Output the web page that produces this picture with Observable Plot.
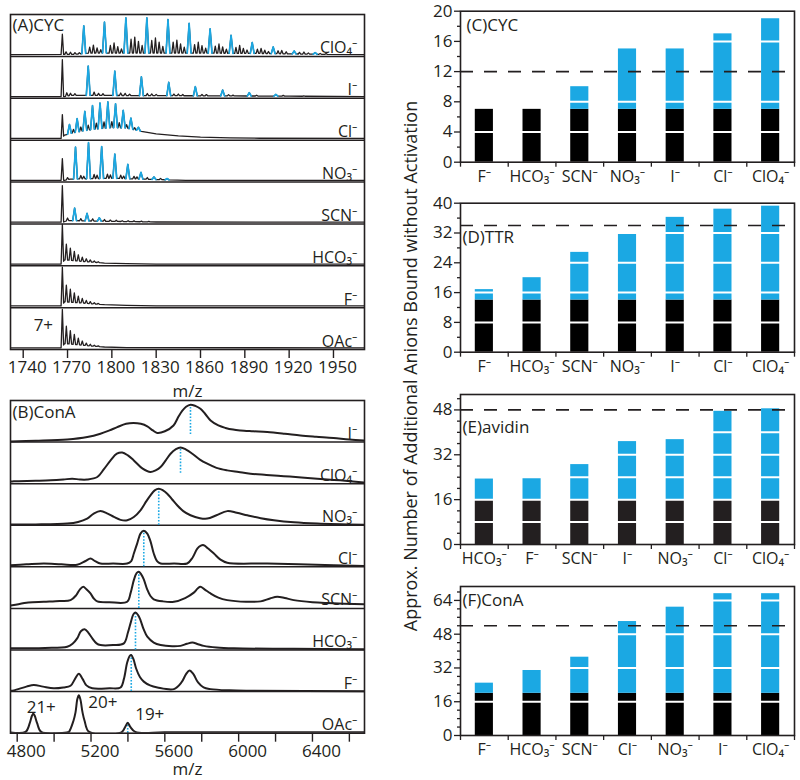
<!DOCTYPE html>
<html><head><meta charset="utf-8">
<script src="https://cdn.jsdelivr.net/npm/d3@7"></script>
<script src="https://cdn.jsdelivr.net/npm/@observablehq/plot@0.6"></script>
<style>
body{margin:0;background:#fff;}
#wrap{position:relative;width:800px;height:780px;overflow:hidden;font-family:"Open Sans","Noto Sans","DejaVu Sans",sans-serif;color:#231f20;}
.p{position:absolute;}
.p svg{overflow:visible;}
#ytitle{position:absolute;left:410px;top:366px;transform:translate(-50%,-50%) rotate(-90deg);white-space:nowrap;font-size:18px;color:#231f20;}
</style></head><body>
<div id="wrap">
<div class="p" id="pA" style="left:0;top:0"></div>
<div class="p" id="pB" style="left:0;top:392px"></div>
<div class="p" id="pC" style="left:400px;top:0"></div>
<div class="p" id="pD" style="left:400px;top:190px"></div>
<div class="p" id="pE" style="left:400px;top:380px"></div>
<div class="p" id="pF" style="left:400px;top:570px"></div>
<div id="ytitle">Approx. Number of Additional Anions Bound without Activation</div>
</div>
<script>
// ---------------- Panel A: CYC mass spectra (rows bottom -> top) ----------------
const cycAnions = ["OAc⁻","F⁻","HCO₃⁻","SCN⁻","NO₃⁻","Cl⁻","I⁻","ClO₄⁻"];
const cycTicks = [1740,1770,1800,1830,1860,1890,1920,1950];

const cycOAcBlack = [[1766.5,0.89],[1769.2,0.42],[1771.9,0.32],[1774.6,0.24],[1777.3,0.16],[1780,0.1],[1782.7,0.06],[1785.4,0.04],[1788.1,0.025],[1790.8,0.015]];
const cycOAcBase = [[1731,0],[1766,0],[1768,0.1],[1772,0.09],[1778,0.07],[1785,0.045],[1795,0.02],[1810,0.005],[1971,0]];
const cycOAcBlue = [];

const cycFBlack = [[1766.5,0.90],[1769.2,0.4],[1771.9,0.31],[1774.6,0.23],[1777.3,0.16],[1780,0.11],[1782.7,0.07],[1785.4,0.05],[1788.1,0.03],[1790.8,0.02]];
const cycFBase = [[1731,0],[1766,0],[1768,0.1],[1772,0.09],[1778,0.075],[1785,0.055],[1795,0.03],[1810,0.012],[1830,0],[1971,0]];
const cycFBlue = [];

const cycHCO3Black = [[1766.5,0.92],[1769.2,0.38],[1771.9,0.29],[1774.6,0.22],[1777.3,0.15],[1780,0.1],[1782.7,0.07],[1785.4,0.05],[1788.1,0.03],[1790.8,0.02]];
const cycHCO3Base = [[1731,0],[1766,0],[1768,0.1],[1772,0.09],[1778,0.07],[1785,0.05],[1795,0.025],[1810,0.01],[1830,0],[1971,0]];
const cycHCO3Blue = [];

const cycSCNBlack = [[1766.5,0.87],[1770,0.06],[1779,0.05],[1787,0.05],[1795,0.04],[1799,0.03],[1803,0.03],[1807,0.02],[1811,0.02],[1815,0.02],[1820,0.015],[1825,0.01]];
const cycSCNBase = [[1731,0],[1767,0],[1770,0.04],[1800,0.02],[1830,0.005],[1971,0]];
const cycSCNBlue = [[1774.8,0.30],[1783.2,0.18],[1791.5,0.08]];

const cycNO3Black = [[1766.5,0.52],[1770,0.05],[1779,0.08],[1781,0.06],[1788,0.1],[1790,0.08],[1797,0.1],[1799,0.08],[1806,0.08],[1808,0.06],[1815,0.06],[1817,0.05],[1824,0.04],[1833,0.03]];
const cycNO3Base = [[1731,0],[1768,0],[1772,0.03],[1800,0.05],[1830,0.02],[1850,0],[1971,0]];
const cycNO3Blue = [[1775.4,0.76],[1784.2,0.86],[1793.1,0.76],[1802,0.58],[1810.8,0.34],[1819.7,0.16],[1828.5,0.06],[1837.4,0.03]];

const cycClBlack = [[1766.5,0.55],[1774,0.08],[1779,0.1],[1784,0.12],[1789.5,0.14],[1794.7,0.15],[1800,0.14],[1805,0.12],[1810,0.08],[1815.5,0.05]];
const cycClBase = [[1731,0],[1766,0],[1768,0.08],[1772,0.12],[1780,0.18],[1790,0.23],[1800,0.26],[1810,0.25],[1820,0.17],[1830,0.11],[1845,0.06],[1860,0.03],[1880,0.015],[1900,0.005],[1971,0]];
const cycClBlue = [[1771.3,0.22],[1776.5,0.32],[1781.7,0.46],[1786.9,0.57],[1792,0.61],[1797.3,0.62],[1802.5,0.57],[1807.7,0.42],[1812.9,0.26],[1818,0.08]];

const cycIBlack = [[1766.5,0.88],[1769.5,0.08],[1772,0.05],[1775,0.04],[1788,0.08],[1791,0.05],[1794,0.04],[1806,0.06],[1809,0.05],[1812,0.03],[1824,0.05],[1827,0.04],[1830,0.03],[1842,0.04],[1845,0.04],[1848,0.03],[1861,0.03],[1864,0.03],[1879,0.03],[1882,0.02],[1898,0.02],[1916,0.02],[1930,0.01]];
const cycIBase = [[1731,0],[1768,0],[1772,0.03],[1850,0.02],[1920,0.01],[1971,0]];
const cycIBlue = [[1784,0.70],[1802,0.58],[1820,0.45],[1838.5,0.32],[1856.5,0.22],[1875,0.14],[1893,0.08],[1911,0.04]];

const cycClO4Black = [[1766.5,0.48],[1769,0.06],[1772,0.05],[1775,0.04],[1778,0.03],
  [1785,0.14],[1787.5,0.19],[1790,0.12],[1792.5,0.08],[1799,0.18],[1801.5,0.24],[1804,0.15],[1806.5,0.1],
  [1813,0.33],[1815.5,0.38],[1818,0.28],[1820.5,0.18],[1827,0.3],[1829.5,0.36],[1832,0.26],[1834.5,0.16],
  [1841.5,0.26],[1844,0.31],[1846.5,0.22],[1849,0.14],[1856,0.2],[1858.5,0.26],[1861,0.18],[1863.5,0.12],
  [1870,0.17],[1872.5,0.22],[1875,0.15],[1877.5,0.1],[1884,0.14],[1886.5,0.19],[1889,0.12],[1891.5,0.08],
  [1898.5,0.1],[1901,0.12],[1903.5,0.08],[1906,0.05],[1912.5,0.07],[1915,0.08],[1918,0.05],[1927,0.04],[1930,0.05],[1933,0.03],[1941,0.02],[1945,0.02]];
const cycClO4Base = [[1731,0],[1775,0.01],[1785,0.04],[1850,0.04],[1900,0.03],[1940,0.01],[1971,0]];
const cycClO4Blue = [[1781,0.66],[1795,0.74],[1809.5,0.84],[1823.7,0.84],[1838,0.80],[1852.3,0.71],[1866.5,0.58],[1880.7,0.43],[1895,0.26],[1909.2,0.16],[1923.4,0.07],[1937.6,0.04]];

const cycRows = [
  {black: cycOAcBlack, base: cycOAcBase, blue: cycOAcBlue},
  {black: cycFBlack, base: cycFBase, blue: cycFBlue},
  {black: cycHCO3Black, base: cycHCO3Base, blue: cycHCO3Blue},
  {black: cycSCNBlack, base: cycSCNBase, blue: cycSCNBlue},
  {black: cycNO3Black, base: cycNO3Base, blue: cycNO3Blue},
  {black: cycClBlack, base: cycClBase, blue: cycClBlue},
  {black: cycIBlack, base: cycIBase, blue: cycIBlue},
  {black: cycClO4Black, base: cycClO4Base, blue: cycClO4Blue}
];

// ---------------- Panel B: ConA spectra (rows bottom -> top) ----------------
const conaAnions = ["OAc⁻","F⁻","HCO₃⁻","SCN⁻","Cl⁻","NO₃⁻","ClO₄⁻","I⁻"];
const conaTicks = [4800,5000,5200,5400,5600,5800,6000,6200,6400,6600];
const conaTickLabels = [4800,5200,5600,6000,6400];

const conaOAc = [[4764,0.02],[4845,0.03],[4868,0.24],[4880,0.42],[4887,0.47],[4895,0.42],[4908,0.24],[4930,0.03],[5071,0.02],[5080,0.03],[5105,0.3],[5116,0.5],[5126,0.82],[5134,0.91],[5142,0.82],[5154,0.5],[5165,0.3],[5190,0.03],[5365,0.02],[5385,0.15],[5399,0.25],[5413,0.15],[5440,0.03],[5600,0.02],[6000,0.025],[6682,0.02]];
const conaF = [[4764,0.02],[4782,0.03],[4850,0.12],[4890,0.16],[4940,0.12],[4998,0.08],[5050,0.1],[5089,0.14],[5115,0.32],[5134,0.43],[5155,0.3],[5175,0.15],[5207,0.08],[5300,0.08],[5360,0.1],[5378,0.3],[5396,0.7],[5410,0.86],[5418,0.88],[5430,0.78],[5445,0.55],[5465,0.35],[5486,0.24],[5520,0.15],[5560,0.1],[5649,0.06],[5690,0.22],[5715,0.42],[5734,0.51],[5755,0.42],[5780,0.22],[5810,0.1],[5848,0.06],[5950,0.03],[6064,0.02],[6682,0.01]];
const conaHCO3 = [[4764,0.04],[4950,0.05],[5071,0.08],[5100,0.15],[5125,0.28],[5145,0.45],[5165,0.5],[5185,0.42],[5207,0.28],[5230,0.16],[5251,0.12],[5320,0.12],[5378,0.16],[5400,0.42],[5414,0.64],[5430,0.86],[5441,0.9],[5455,0.84],[5468,0.72],[5485,0.5],[5505,0.32],[5540,0.18],[5577,0.12],[5640,0.09],[5685,0.1],[5720,0.15],[5749,0.18],[5780,0.14],[5811,0.1],[5880,0.06],[5974,0.04],[6300,0.03],[6682,0.02]];
const conaSCN = [[4764,0.07],[4782,0.08],[4860,0.14],[4944,0.16],[5030,0.18],[5089,0.2],[5120,0.32],[5140,0.46],[5158,0.52],[5175,0.46],[5197,0.36],[5215,0.24],[5234,0.17],[5300,0.15],[5396,0.16],[5415,0.38],[5432,0.68],[5447,0.85],[5459,0.88],[5472,0.82],[5486,0.7],[5505,0.45],[5522,0.3],[5540,0.22],[5590,0.17],[5649,0.16],[5710,0.25],[5757,0.38],[5778,0.48],[5793,0.52],[5815,0.46],[5848,0.36],[5890,0.26],[5938,0.2],[6040,0.16],[6119,0.17],[6170,0.24],[6209,0.28],[6250,0.25],[6299,0.2],[6400,0.15],[6480,0.13],[6682,0.1]];
const conaCl = [[4764,0.04],[4850,0.06],[4944,0.08],[5040,0.06],[5125,0.05],[5170,0.14],[5197,0.2],[5222,0.14],[5251,0.08],[5320,0.08],[5396,0.08],[5418,0.14],[5432,0.32],[5450,0.56],[5468,0.8],[5486,0.87],[5505,0.8],[5522,0.62],[5540,0.32],[5559,0.13],[5577,0.08],[5650,0.08],[5721,0.08],[5750,0.22],[5776,0.44],[5795,0.51],[5811,0.52],[5835,0.44],[5866,0.32],[5900,0.18],[5938,0.1],[6155,0.08],[6516,0.04],[6682,0.02]];
const conaNO3 = [[4764,0.02],[4900,0.02],[5071,0.04],[5130,0.08],[5179,0.16],[5215,0.28],[5251,0.34],[5290,0.28],[5324,0.2],[5360,0.13],[5396,0.12],[5432,0.2],[5468,0.36],[5500,0.58],[5522,0.72],[5545,0.84],[5567,0.88],[5590,0.84],[5613,0.76],[5640,0.62],[5667,0.48],[5700,0.34],[5739,0.24],[5790,0.17],[5830,0.16],[5880,0.24],[5938,0.34],[5990,0.3],[6047,0.24],[6120,0.17],[6191,0.12],[6300,0.07],[6426,0.04],[6682,0.01]];
const conaClO4 = [[4764,0.05],[4782,0.06],[4900,0.07],[4981,0.08],[5050,0.1],[5098,0.12],[5140,0.1],[5179,0.1],[5234,0.16],[5270,0.35],[5306,0.56],[5340,0.72],[5369,0.75],[5400,0.68],[5432,0.56],[5480,0.36],[5522,0.28],[5550,0.32],[5577,0.4],[5605,0.56],[5631,0.72],[5660,0.83],[5685,0.87],[5715,0.82],[5749,0.72],[5790,0.58],[5830,0.48],[5880,0.38],[5938,0.32],[6000,0.28],[6064,0.24],[6150,0.21],[6245,0.18],[6340,0.15],[6426,0.12],[6550,0.08],[6682,0.03]];
const conaI = [[4764,0.015],[4900,0.03],[5071,0.06],[5180,0.12],[5251,0.2],[5300,0.28],[5342,0.36],[5390,0.44],[5430,0.46],[5470,0.44],[5505,0.38],[5535,0.28],[5559,0.22],[5600,0.26],[5647,0.4],[5675,0.62],[5694,0.75],[5715,0.85],[5739,0.9],[5765,0.87],[5793,0.8],[5820,0.67],[5848,0.52],[5890,0.4],[5929,0.34],[5970,0.3],[6010,0.28],[6080,0.26],[6155,0.24],[6250,0.2],[6335,0.16],[6420,0.13],[6514,0.1],[6600,0.06],[6682,0.04]];
const conaTraces = [conaOAc, conaF, conaHCO3, conaSCN, conaCl, conaNO3, conaClO4, conaI];
// blue dotted markers: [m/z, top, bottom] per row (bottom -> top)
const conaMarkers = [[5399,0.25,0],[5418,0.88,0],[5441,0.9,0],[5459,0.88,0],[5486,0.87,0],[5567,0.88,0],[5685,0.87,0.25],[5739,0.9,0.18]];
const conaCharges = [["21+",4887,0.47],["20+",5134,0.91],["19+",5399,0.25]];

// ---------------- Panels C-F: bar charts ----------------
const cycCats = ["F⁻","HCO₃⁻","SCN⁻","NO₃⁻","I⁻","Cl⁻","ClO₄⁻"];
const cycBound = 7;
const cycTotal = [7,7,10,15,15,17,19];
const cycLine = 12;

const ttrCats = ["F⁻","HCO₃⁻","SCN⁻","NO₃⁻","I⁻","Cl⁻","ClO₄⁻"];
const ttrBound = 14;
const ttrTotal = [16.8,20,26.8,32,36.2,38.4,39.2];
const ttrLine = 34;

const avidinCats = ["HCO₃⁻","F⁻","SCN⁻","I⁻","NO₃⁻","Cl⁻","ClO₄⁻"];
const avidinBound = 16;
const avidinTotal = [23.4,23.8,28.5,36.7,37.4,47.5,48.4];
const avidinLine = 48;

const conaCats = ["F⁻","HCO₃⁻","SCN⁻","Cl⁻","NO₃⁻","I⁻","ClO₄⁻"];
const conaBound = 20;
const conaTotal = [24.8,30.8,37.1,54,60.8,67.2,67.2];
const conaLine = 52;

const FONT = '"Open Sans","Noto Sans","DejaVu Sans",sans-serif';
const BLUE = "#1ba8e3";
const INK = "#231f20";

function interp(base, x) {
  if (!base.length) return 0;
  if (x <= base[0][0]) return base[0][1];
  for (let i = 1; i < base.length; i++) {
    if (x <= base[i][0]) {
      const [x0, y0] = base[i - 1], [x1, y1] = base[i];
      return y0 + (y1 - y0) * (x - x0) / (x1 - x0);
    }
  }
  return base[base.length - 1][1];
}
const HWK = 0.85, HWB = 1.3, OFF = 0.04;
function spikes(peaks, base, hw) {
  return peaks.map(([c, h]) => [[c - hw, interp(base, c - hw)], [c, interp(base, c) + h], [c + hw, interp(base, c + hw)]]);
}
const aBlack = [], aBlue = [];
cycRows.forEach((row, r) => {
  const spans = [...row.black.map(([c]) => [c - HWK, c + HWK]), ...row.blue.map(([c]) => [c - HWB, c + HWB])];
  const basePts = row.base.filter(([x]) => !spans.some(([a, b]) => x >= a && x <= b));
  const blk = spikes(row.black, row.base, HWK), blu = spikes(row.blue, row.base, HWB);
  const pts = [...basePts, ...blk.flat(), ...blu.flat()].sort((a, b) => a[0] - b[0]);
  pts.forEach(([x, y]) => aBlack.push({x, y: r + OFF + y, row: r}));
  blu.forEach((tri, k) => tri.forEach(([x, y]) => aBlue.push({x, y: r + OFF + y, id: r * 100 + k})));
});

const style = {fontFamily: FONT, fontSize: "17px", color: INK, background: "transparent", overflow: "visible"};

const plotA = Plot.plot({
  width: 380, height: 392, marginLeft: 10, marginRight: 16, marginTop: 14, marginBottom: 43,
  style,
  x: {domain: [1731.4, 1971], label: null},
  y: {domain: [0, cycAnions.length], label: null, axis: null},
  marks: [
    Plot.ruleY(cycAnions.map((d, i) => i).slice(1), {stroke: INK, strokeWidth: 1.5}),
    Plot.line(aBlack, {x: "x", y: "y", z: "row", stroke: INK, strokeWidth: 1.3, clip: true}),
    Plot.line(aBlue, {x: "x", y: "y", z: "id", stroke: BLUE, strokeWidth: 1.7, clip: true}),
    Plot.frame({stroke: INK, strokeWidth: 1.6}),
    Plot.axisX({ticks: cycTicks, tickSize: 9, tickFormat: () => "", label: null, stroke: INK, strokeWidth: 1.4}),
    Plot.axisX({ticks: cycTicks, tickSize: 0, tickPadding: 11, dx: 4, tickFormat: d => String(d), fontSize: 17, label: null}),
    Plot.text(["m/z"], {frameAnchor: "bottom", dy: 42, lineAnchor: "middle", fontSize: 17}),
    Plot.text(cycAnions, {frameAnchor: "right", y: (d, i) => i, text: d => d, textAnchor: "end", lineAnchor: "bottom", dx: -7, dy: -3, fontSize: 16}),
    Plot.text(["(A)CYC"], {frameAnchor: "top-left", dx: 2, dy: 11, lineAnchor: "middle", textAnchor: "start", fontSize: 17}),
    Plot.text([cycOAcBlack[0]], {x: d => d[0], y: d => OFF + d[1], text: () => "7+", dx: -19, dy: 15, lineAnchor: "middle", fontSize: 17})
  ]
});
document.getElementById("pA").append(plotA);

const bLines = [];
conaTraces.forEach((t, r) => t.forEach(([x, y]) => bLines.push({x, y: r + y, row: r})));
const bMarks = conaMarkers.map(([x, top, bot], r) => ({x, y1: r + bot, y2: r + top}));
const plotB = Plot.plot({
  width: 380, height: 388, marginLeft: 10, marginRight: 16, marginTop: 8, marginBottom: 47.3,
  style,
  x: {domain: [4763.7, 6682], label: null},
  y: {domain: [0, conaAnions.length], label: null, axis: null},
  marks: [
    Plot.ruleY(conaAnions.map((d, i) => i).slice(1), {stroke: INK, strokeWidth: 1.5}),
    Plot.ruleX(bMarks, {x: "x", y1: "y1", y2: "y2", stroke: BLUE, strokeWidth: 1.6, strokeDasharray: "1.6,1.6"}),
    Plot.line(bLines, {x: "x", y: "y", z: "row", stroke: INK, strokeWidth: 2, curve: "catmull-rom", clip: true}),
    Plot.frame({stroke: INK, strokeWidth: 1.6}),
    Plot.axisX({ticks: conaTicks, tickSize: 9, tickFormat: () => "", label: null, stroke: INK, strokeWidth: 1.4}),
    Plot.axisX({ticks: conaTickLabels, tickSize: 0, tickPadding: 12, dx: 9, tickFormat: d => String(d), fontSize: 17, label: null}),
    Plot.text(["m/z"], {frameAnchor: "bottom", dy: 36, lineAnchor: "middle", fontSize: 17}),
    Plot.text(conaAnions, {frameAnchor: "right", y: (d, i) => i, text: d => d, textAnchor: "end", lineAnchor: "bottom", dx: -7, dy: -3, fontSize: 16}),
    Plot.text(["(B)ConA"], {frameAnchor: "top-left", dx: 2, dy: 12, lineAnchor: "middle", textAnchor: "start", fontSize: 17}),
    Plot.text([conaCharges[0]], {x: d => d[1], y: d => d[2], text: d => d[0], dx: 8, dy: -6, lineAnchor: "middle", fontSize: 17}),
    Plot.text([conaCharges[1]], {x: d => d[1], y: d => d[2], text: d => d[0], dx: 24, dy: 7, lineAnchor: "middle", fontSize: 17}),
    Plot.text([conaCharges[2]], {x: d => d[1], y: d => d[2], text: d => d[0], dx: 22, dy: -8, lineAnchor: "middle", fontSize: 17})
  ]
});
document.getElementById("pB").append(plotB);

function barPanel(o) {
  const rows = o.cats.map((c, i) => ({c, i, bound: o.bound, total: o.total[i]}));
  return Plot.plot({
    width: 400, height: o.height, marginLeft: 60, marginRight: 6, marginTop: o.mt, marginBottom: o.mb,
    style,
    x: {domain: [0, o.cats.length], label: null},
    y: {domain: [0, o.ymax], label: null},
    marks: [
      Plot.rect(rows, {x1: d => d.i + 0.31, x2: d => d.i + 0.69, y1: 0, y2: "bound", fill: o.black}),
      Plot.rect(rows.filter(d => d.total > d.bound), {x1: d => d.i + 0.31, x2: d => d.i + 0.69, y1: "bound", y2: "total", fill: BLUE}),
      Plot.ruleY(o.grid, {stroke: "white", strokeWidth: 2}),
      Plot.ruleY([o.line], {stroke: INK, strokeWidth: 1.6, strokeDasharray: "13,11"}),
      Plot.frame({stroke: INK, strokeWidth: 1.6}),
      Plot.axisY({ticks: o.major, tickSize: 6, tickPadding: 2, tickFormat: d => String(d), fontSize: 17, label: null, strokeWidth: 1.3}),
      Plot.axisY({ticks: o.minor, tickSize: 3, tickFormat: () => "", label: null, strokeWidth: 1.3}),
      Plot.axisX({ticks: d3.range(o.cats.length + 1), tickSize: 5, tickFormat: () => "", label: null, strokeWidth: 1.3}),
      Plot.axisX({ticks: o.cats.map((c, i) => i + 0.5), tickSize: 0, tickPadding: 8, tickFormat: d => o.cats[Math.floor(d)], fontSize: 16, label: null}),
      Plot.text([o.label], {frameAnchor: "top-left", dx: o.dx, dy: o.dy, lineAnchor: "middle", textAnchor: "start", fontSize: 17})
    ]
  });
}
document.getElementById("pC").append(barPanel({cats: cycCats, bound: cycBound, total: cycTotal, line: cycLine, ymax: 20,
  grid: [4, 8, 16], major: [0, 4, 8, 12, 16, 20], minor: [2, 6, 10, 14, 18], height: 190, mt: 10.7, mb: 28.3,
  black: "#000", label: "(C)CYC", dx: 6, dy: 14.5}));
document.getElementById("pD").append(barPanel({cats: ttrCats, bound: ttrBound, total: ttrTotal, line: ttrLine, ymax: 40,
  grid: [8, 16, 24, 32], major: [0, 8, 16, 24, 32, 40], minor: [4, 12, 20, 28, 36], height: 190, mt: 12.7, mb: 28.3,
  black: "#000", label: "(D)TTR", dx: 2, dy: 34}));
document.getElementById("pE").append(barPanel({cats: avidinCats, bound: avidinBound, total: avidinTotal, line: avidinLine, ymax: 53.5,
  grid: [8, 16, 24, 32, 40], major: [0, 16, 32, 48], minor: [4, 8, 12, 20, 24, 28, 36, 40, 44, 52], height: 190, mt: 14, mb: 26,
  black: INK, label: "(E)avidin", dx: 2, dy: 33}));
document.getElementById("pF").append(barPanel({cats: conaCats, bound: conaBound, total: conaTotal, line: conaLine, ymax: 70.6,
  grid: [16, 32, 48, 64], major: [0, 16, 32, 48, 64], minor: [4, 8, 12, 20, 24, 28, 36, 40, 44, 52, 56, 60, 68], height: 210, mt: 16, mb: 45,
  black: "#000", label: "(F)ConA", dx: 2, dy: 14}));
</script>
</body></html>
